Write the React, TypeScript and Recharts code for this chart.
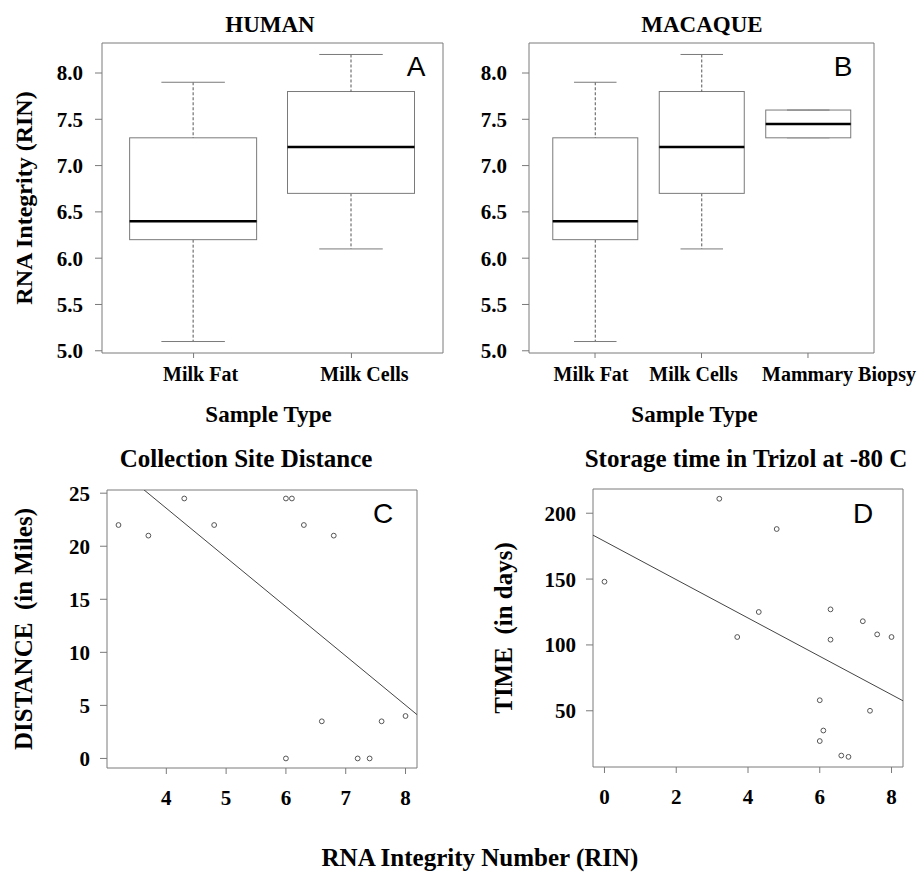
import React from "react";
import { Bar, BarChart, Label, ReferenceArea, Scatter, ScatterChart, XAxis, YAxis } from "recharts";

const SERIF = '"Liberation Serif", "Times New Roman", serif';
const SANS = '"Liberation Sans", Arial, sans-serif';
const FRAME = "#7a7a7a";
const WHISKER = "#555";

// A: human box plots
const humanTypes = ["Milk Fat", "Milk Cells"];
const humanLow = [5.1, 6.1];
const humanQ1 = [6.2, 6.7];
const humanMedian = [6.4, 7.2];
const humanQ3 = [7.3, 7.8];
const humanHigh = [7.9, 8.2];

// B: macaque box plots
const macaqueTypes = ["Milk Fat", "Milk Cells", "Mammary Biopsy"];
const macaqueLow = [5.1, 6.1, 7.3];
const macaqueQ1 = [6.2, 6.7, 7.3];
const macaqueMedian = [6.4, 7.2, 7.45];
const macaqueQ3 = [7.3, 7.8, 7.6];
const macaqueHigh = [7.9, 8.2, 7.6];

const rinTicks = [5, 5.5, 6, 6.5, 7, 7.5, 8];
const rinDomain = [4.976, 8.324];

// C: collection site distance vs RIN
const distRin = [3.2, 3.7, 4.3, 4.8, 6.0, 6.1, 6.3, 6.8, 6.6, 7.6, 8.0, 6.0, 7.2, 7.4];
const distMiles = [22, 21, 24.5, 22, 24.5, 24.5, 22, 21, 3.5, 3.5, 4, 0, 0, 0];
const distFit = { intercept: 42.14, slope: -4.64 };
const distXTicks = [4, 5, 6, 7, 8];
const distYTicks = [0, 5, 10, 15, 20, 25];

// D: storage time vs RIN
const storageRin = [0, 3.2, 4.8, 4.3, 3.7, 6.3, 6.3, 7.2, 7.6, 8.0, 6.0, 7.4, 6.1, 6.0, 6.6, 6.8];
const storageDays = [148, 211, 188, 125, 106, 127, 104, 118, 108, 106, 58, 50, 35, 27, 16, 15];
const storageFit = { intercept: 178.7, slope: -14.56 };
const storageXTicks = [0, 2, 4, 6, 8];
const storageYTicks = [50, 100, 150, 200];

const boxRows = (types: string[], lo: number[], q1: number[], med: number[], q3: number[], hi: number[]) =>
  types.map((name, i) => ({
    pos: i + 1, name, base: lo[i], wLow: q1[i] - lo[i], boxLow: med[i] - q1[i], boxHigh: q3[i] - med[i], wHigh: hi[i] - q3[i],
  }));

const WhiskerLow = (p: any) => {
  const cx = p.x + p.width / 2, bottom = p.y + p.height;
  return <g>
    <line x1={cx} x2={cx} y1={p.y} y2={bottom} stroke={WHISKER} strokeDasharray="3 2" />
    <line x1={cx - p.width / 4} x2={cx + p.width / 4} y1={bottom} y2={bottom} stroke={FRAME} />
  </g>;
};
const WhiskerHigh = (p: any) => {
  const cx = p.x + p.width / 2;
  return <g>
    <line x1={cx} x2={cx} y1={p.y} y2={p.y + p.height} stroke={WHISKER} strokeDasharray="3 2" />
    <line x1={cx - p.width / 4} x2={cx + p.width / 4} y1={p.y} y2={p.y} stroke={FRAME} />
  </g>;
};
const BoxLow = (p: any) => <rect x={p.x} y={p.y} width={p.width} height={p.height} fill="#fff" stroke={FRAME} />;
const BoxHigh = (p: any) => <g>
  <rect x={p.x} y={p.y} width={p.width} height={p.height} fill="#fff" stroke={FRAME} />
  <line x1={p.x} x2={p.x + p.width} y1={p.y + p.height} y2={p.y + p.height} stroke="#000" strokeWidth={2.5} />
</g>;

const Ring = (p: any) => <circle cx={p.cx} cy={p.cy} r={2.4} fill="none" stroke="#555" strokeWidth={1} />;

const numTick = { fontSize: 21, fontWeight: 700, fill: "#000", fontFamily: SERIF };
const axisTitle = { fontSize: 24, fontWeight: 700, fill: "#000", fontFamily: SERIF, textAnchor: "middle" as const };

// category label under a box: shifted and sized per panel
const CatTick = ({ x, y, payload, types, shifts, sizes }: any) => {
  const i = payload.value - 1;
  return <text x={x + shifts[i]} y={y} dy="0.71em" textAnchor="middle" fontSize={sizes[i]} fontWeight={700} fill="#000" fontFamily={SERIF}>{types[i]}</text>;
};

function BoxPanel({ rows, types, left, yWidth, right, barSize, yMargin, yLabel, labelDx, shifts, sizes }: any) {
  const n = types.length;
  const xDomain = [0.5 - 0.04 * n, n + 0.5 + 0.04 * n];
  return <div style={{ position: "absolute", left, top: 0 }}>
    <BarChart width={461} height={430} data={rows} margin={{ top: 43, right, left: 0, bottom: 0 }}>
      <XAxis type="number" dataKey="pos" domain={xDomain} ticks={types.map((_: string, i: number) => i + 1)} interval={0}
        allowDataOverflow axisLine={false} stroke={FRAME} tickSize={5} tickMargin={9} height={77}
        tick={(p: any) => <CatTick {...p} types={types} shifts={shifts} sizes={sizes} />}>
        <Label value="Sample Type" position="insideBottom" offset={8} dx={labelDx} style={{ ...axisTitle, fontSize: 23 }} />
      </XAxis>
      <YAxis type="number" domain={rinDomain} ticks={rinTicks} interval={0} allowDataOverflow axisLine={false} stroke={FRAME}
        tickSize={7} tickMargin={yMargin} width={yWidth} tick={numTick} tickFormatter={(v) => v.toFixed(1)}>
        {yLabel && <Label value={yLabel} angle={-90} position="insideLeft" offset={23} style={axisTitle} />}
      </YAxis>
      <ReferenceArea x1={xDomain[0]} x2={xDomain[1]} y1={rinDomain[0]} y2={rinDomain[1]} fill="none" stroke={FRAME} strokeOpacity={1} />
      <Bar dataKey="base" stackId="b" barSize={barSize} fill="none" isAnimationActive={false} shape={() => <g />} />
      <Bar dataKey="wLow" stackId="b" barSize={barSize} isAnimationActive={false} shape={WhiskerLow} />
      <Bar dataKey="boxLow" stackId="b" barSize={barSize} isAnimationActive={false} shape={BoxLow} />
      <Bar dataKey="boxHigh" stackId="b" barSize={barSize} isAnimationActive={false} shape={BoxHigh} />
      <Bar dataKey="wHigh" stackId="b" barSize={barSize} isAnimationActive={false} shape={WhiskerHigh} />
    </BarChart>
  </div>;
}

function ScatterPanel({ left, xs, ys, fit, xDomain, yDomain, xTicks, yTicks, yWidth, top, right, bottomH, yLabel, labelOffset }: any) {
  const pts = xs.map((x: number, i: number) => ({ x, y: ys[i] }));
  const fitPts = xDomain.map((x: number) => ({ x, y: fit.intercept + fit.slope * x }));
  return <div style={{ position: "absolute", left, top: 430 }}>
    <ScatterChart width={461} height={442} margin={{ top, right, left: 0, bottom: 0 }}>
      <XAxis type="number" dataKey="x" domain={xDomain} ticks={xTicks} interval={0} allowDataOverflow axisLine={false}
        stroke={FRAME} tickSize={6} tickMargin={16} height={bottomH} tick={numTick} />
      <YAxis type="number" dataKey="y" domain={yDomain} ticks={yTicks} interval={0} allowDataOverflow axisLine={false}
        stroke={FRAME} tickSize={7} tickMargin={10} width={yWidth} tick={numTick}>
        <Label value={yLabel} angle={-90} position="insideLeft" offset={labelOffset} style={{ ...axisTitle, fontSize: 25 }} />
      </YAxis>
      <ReferenceArea x1={xDomain[0]} x2={xDomain[1]} y1={yDomain[0]} y2={yDomain[1]} fill="none" stroke={FRAME} strokeOpacity={1} />
      <Scatter data={fitPts} line={{ stroke: "#444", strokeWidth: 1 }} shape={() => <g />} isAnimationActive={false} />
      <Scatter data={pts} shape={Ring} isAnimationActive={false} />
    </ScatterChart>
  </div>;
}

export default function App() {
  const human = boxRows(humanTypes, humanLow, humanQ1, humanMedian, humanQ3, humanHigh);
  const macaque = boxRows(macaqueTypes, macaqueLow, macaqueQ1, macaqueMedian, macaqueQ3, macaqueHigh);
  const title = { fontFamily: SERIF, fontWeight: 700, fill: "#000", textAnchor: "middle" as const };
  const letter = { fontFamily: SANS, fontSize: 28, fill: "#000", textAnchor: "middle" as const };
  return <div style={{ position: "absolute", left: 0, top: 0, width: 922, height: 872, background: "#fff", fontFamily: SERIF }}>
    <BoxPanel rows={human} types={humanTypes} left={0} yWidth={102} right={18} barSize={127} yMargin={12}
      yLabel="RNA Integrity (RIN)" labelDx={-4} shifts={[7, 13]} sizes={[20, 20]} />
    <BoxPanel rows={macaque} types={macaqueTypes} left={461} yWidth={68} right={48} barSize={85} yMargin={15}
      labelDx={-7} shifts={[-4, -8, 31]} sizes={[20, 20, 20]} />
    <ScatterPanel left={0} xs={distRin} ys={distMiles} fit={distFit} xDomain={[3.008, 8.192]} yDomain={[-0.9, 25.3]}
      xTicks={distXTicks} yTicks={distYTicks} yWidth={107} top={60} right={44} bottomH={104} yLabel={"DISTANCE\u00a0 (in Miles)"} labelOffset={23} />
    <ScatterPanel left={461} xs={storageRin} ys={storageDays} fit={storageFit} xDomain={[-0.32, 8.32]} yDomain={[7.3, 218.4]}
      xTicks={storageXTicks} yTicks={storageYTicks} yWidth={132} top={59} right={19} bottomH={105} yLabel={"TIME\u00a0 (in days)"} labelOffset={42} />
    <svg width={922} height={872} style={{ position: "absolute", left: 0, top: 0, pointerEvents: "none" }}>
      <text x={270} y={32} fontSize={23} {...title}>HUMAN</text>
      <text x={702} y={32} fontSize={23} {...title}>MACAQUE</text>
      <text x={416} y={76} {...letter}>A</text>
      <text x={843} y={76} {...letter}>B</text>
      <text x={246} y={467} fontSize={25} {...title}>Collection Site Distance</text>
      <text x={746} y={467} fontSize={25} {...title}>Storage time in Trizol at -80 C</text>
      <text x={383} y={523} {...letter}>C</text>
      <text x={863} y={523} {...letter}>D</text>
      <text x={480} y={866} fontSize={25} {...title}>RNA Integrity Number (RIN)</text>
    </svg>
  </div>;
}
